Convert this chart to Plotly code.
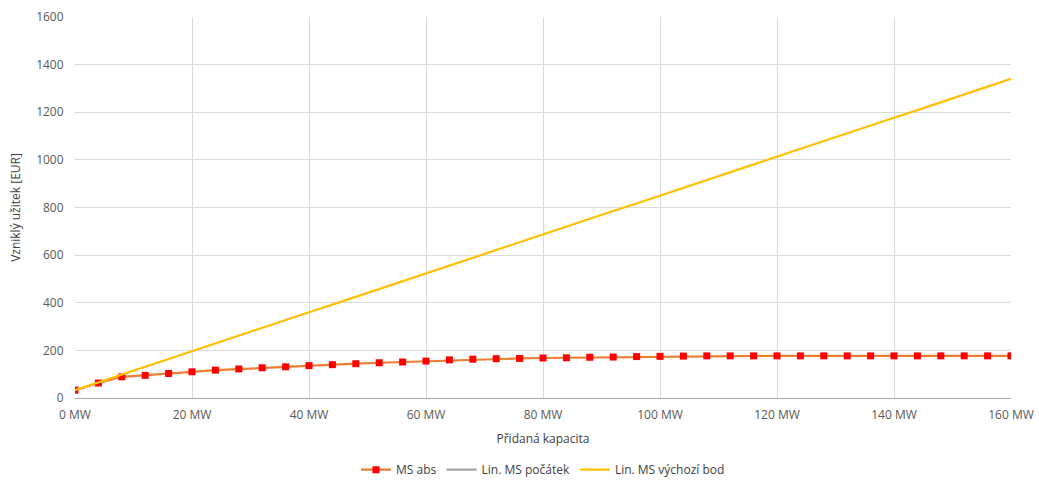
import plotly.graph_objects as go

x_mw = [0, 4, 8, 12, 16, 20, 24, 28, 32, 36, 40, 44, 48, 52, 56, 60, 64, 68, 72, 76, 80,
        84, 88, 92, 96, 100, 104, 108, 112, 116, 120, 124, 128, 132, 136, 140, 144, 148, 152, 156, 160]
ms_abs = [33, 63, 89, 95, 103, 110, 117, 122, 127, 131, 136, 140, 144, 148, 151, 155, 160, 163, 165, 166, 168,
          169, 171, 172, 174, 175, 176, 177, 177, 177, 177, 177, 177, 177, 177, 177, 177, 177, 177, 177, 177]
lin_pocatek = [None] * len(x_mw)
lin_vychozi = [33, 66, 98, 131, 164, 196, 229, 262, 294, 327, 360, 392, 425, 458, 491, 523, 556, 589, 621, 654, 687,
               719, 752, 785, 817, 850, 883, 915, 948, 981, 1013, 1046, 1079, 1111, 1144, 1177, 1209, 1242, 1275, 1307, 1340]
x_ticks = [0, 20, 40, 60, 80, 100, 120, 140, 160]
x_tick_labels = [f"{v} MW" for v in x_ticks]

font_family = "Open Sans, Liberation Sans, sans-serif"
fig = go.Figure()
fig.add_trace(go.Scatter(x=x_mw, y=ms_abs, name="MS abs", mode="lines+markers",
                         line=dict(color="#ED7D31", width=2.2),
                         marker=dict(symbol="square", color="#FF0000", size=7)))
fig.add_trace(go.Scatter(x=x_mw, y=lin_pocatek, name="Lin. MS počátek", mode="lines",
                         line=dict(color="#A5A5A5", width=2.2)))
fig.add_trace(go.Scatter(x=x_mw, y=lin_vychozi, name="Lin. MS výchozí bod", mode="lines",
                         line=dict(color="#FFC000", width=2.2)))

fig.update_layout(
    width=1039, height=486,
    margin=dict(l=75, r=28, t=17, b=88, autoexpand=False),
    plot_bgcolor="white", paper_bgcolor="white",
    font=dict(family=font_family, size=12, color="#595959"),
    showlegend=True,
    legend=dict(orientation="h", x=0.5, xanchor="center", y=-0.15, yanchor="top",
                font=dict(size=12, color="#404040"), traceorder="normal"),
    xaxis=dict(range=[0, 160], tickvals=x_ticks, ticktext=x_tick_labels, automargin=False,
               showgrid=True, gridcolor="#D9D9D9", gridwidth=1,
               showline=True, linecolor="#A6A6A6", linewidth=1, zeroline=False,
               ticks="outside", ticklen=6, tickcolor="rgba(0,0,0,0)",
               title=dict(text="Přidaná kapacita", font=dict(size=12, color="#404040"), standoff=12)),
    yaxis=dict(range=[0, 1600], dtick=200, showgrid=True, gridcolor="#D9D9D9", gridwidth=1, automargin=False,
               zeroline=False, showline=False, ticks="outside", ticklen=8, tickcolor="rgba(0,0,0,0)",
               title=dict(text="Vzniklý užitek [EUR]", font=dict(size=12, color="#404040"), standoff=12)),
)
fig.write_html("out.html", config={"displayModeBar": False},
               post_script="document.body.style.margin='0';document.body.style.overflow='hidden';")
